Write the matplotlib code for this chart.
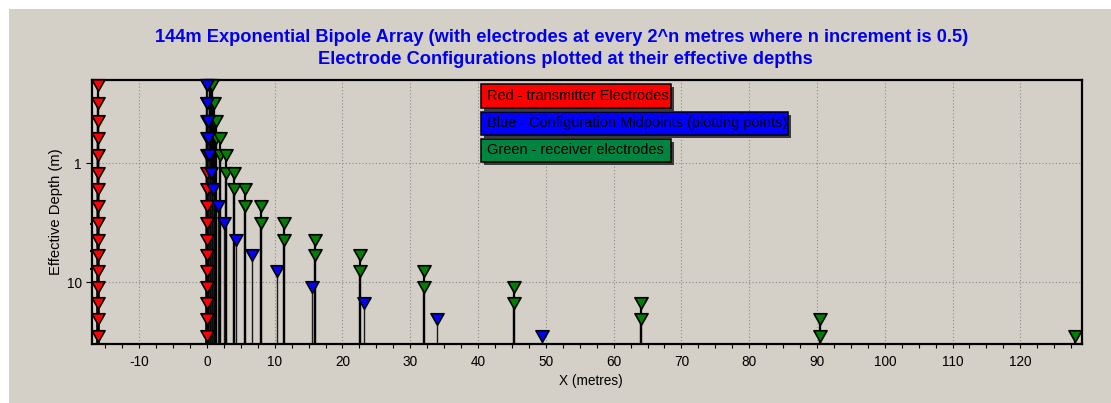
import numpy as np
import matplotlib
matplotlib.use('Agg')
import matplotlib.pyplot as plt
from matplotlib.path import Path
from matplotlib.patches import Rectangle
import matplotlib.ticker as mticker
from matplotlib import font_manager as fm

# ---------------- data ----------------
config_depth = [0.22, 0.31, 0.44, 0.61, 0.86, 1.2, 1.64, 2.3, 3.2, 4.4,
                5.9, 8.0, 10.9, 14.9, 20.3, 28.4]
tx_a = [-16, -16, -16, -16, -16, -16, -16, -16, -16, -16, -16, -16, -16, -16, -16, -16]
tx_b = [0, 0, 0, 0, 0, 0, 0, 0, 0, 0, 0, 0, 0, 0, 0, 0]
rx_m = [0.5, 0.71, 1, 1.41, 2, 2.83, 4, 5.66, 8, 11.3, 16, 22.6, 32, 45.3, 64, 90.5]
rx_n = [0.71, 1, 1.41, 2, 2.83, 4, 5.66, 8, 11.3, 16, 22.6, 32, 45.3, 64, 90.5, 128]
midpoint_x = [0.03, 0.05, 0.1, 0.18, 0.34, 0.57, 0.93, 1.6, 2.56, 4.23,
              6.6, 10.3, 15.5, 23.2, 33.9, 49.5]
x_ticks = [-10, 0, 10, 20, 30, 40, 50, 60, 70, 80, 90, 100, 110, 120]
y_ticks = [1, 10]
y_tick_labels = ['1', '10']
y_minor = [3.25, 5.5, 7.8]
title1 = '144m Exponential Bipole Array (with electrodes at every 2^n metres where n increment is 0.5)'
title2 = 'Electrode Configurations plotted at their effective depths'
legend_labels = ['Red - transmitter Electrodes',
                 'Blue - Configuration Midpoints (plotting points)',
                 'Green - receiver electrodes']

# ---------------- styling ----------------
plt.rcParams['font.family'] = ['Liberation Sans', 'DejaVu Sans']
plt.rcParams['axes.unicode_minus'] = False
names = {f.name for f in fm.fontManager.ttflist}
TITLE_FAMILY = 'Liberation Sans Narrow' if 'Liberation Sans Narrow' in names else 'Liberation Sans'

GRAY = '#D4D0C8'
RED = '#FF0000'
BLUE = '#0000FF'
GREEN = '#008000'
GREEN_BOX = '#00843F'

W, H = 1111, 403
fig = plt.figure(figsize=(W / 100, H / 100), dpi=100, facecolor='white')
fig.patches.append(Rectangle((9 / W, 0), 1, 1 - 9 / H, transform=fig.transFigure,
                             facecolor=GRAY, edgecolor='none', zorder=-5))

L, R, T, B = 91.7, 1082, 80, 344
ax = fig.add_axes([L / W, 1 - B / H, (R - L) / W, (B - T) / H])
ax.set_zorder(1)
ax.set_facecolor(GRAY)
ax.set_yscale('log')
YBOT, YTOP = 33, 0.2
ax.set_ylim(YBOT, YTOP)
ax.set_xlim(-17, 129.1)

# triangle marker (slightly wider than tall)
tri = Path([(-1, 0.88), (1, 0.88), (0, -0.88), (-1, 0.88)],
           [Path.MOVETO, Path.LINETO, Path.LINETO, Path.CLOSEPOLY])
MS = 9.4
MEW = 1.2

# stems
for i, d in enumerate(config_depth):
    ax.vlines([tx_a[i], tx_b[i], rx_m[i], rx_n[i]], d, YBOT, colors='black', lw=1.6, zorder=2)
    ax.vlines([midpoint_x[i]], d, YBOT, colors='#1a1a1a', lw=1.0, zorder=2)

common = dict(ls='none', marker=tri, ms=MS, mew=MEW, mec='black', clip_on=False)
ax.plot(tx_a, config_depth, mfc=RED, zorder=4, **common)
ax.plot(tx_b, config_depth, mfc=RED, zorder=4, **common)
ax.plot(rx_m, config_depth, mfc=GREEN, zorder=5, **common)
ax.plot(rx_n, config_depth, mfc=GREEN, zorder=5, **common)
ax.plot(midpoint_x, config_depth, mfc=BLUE, zorder=6, **common)

# ticks
ax.set_xticks(x_ticks, labels=[str(v) for v in x_ticks])
ax.xaxis.set_minor_locator(mticker.MultipleLocator(2.5))
ax.set_yticks(y_ticks, labels=y_tick_labels)
ax.set_yticks(y_minor, minor=True)
ax.yaxis.set_minor_formatter(mticker.NullFormatter())
ax.tick_params(axis='x', which='both', direction='out', length=3, width=0.8,
               pad=5, labelsize=9.8, colors='black')
ax.tick_params(axis='y', which='major', direction='out', length=4, width=0.8,
               pad=3, labelsize=9.8)
ax.tick_params(axis='y', which='minor', direction='out', length=1.5, width=1.5)
for s in ax.spines.values():
    s.set_linewidth(1.6)
    s.set_color('black')

ax.grid(True, which='major', color='#8a8a8a', linestyle=(0, (1, 2)), lw=0.8)
ax.set_axisbelow(True)

# axis labels
fig.text(591 / W, 1 - 381 / H, 'X (metres)', ha='center', va='center', fontsize=9.8)
ylab = fig.text(56 / W, 1 - 212 / H, 'Effective Depth (m)', ha='center', va='center',
                rotation=90, fontsize=10)

# title
t1 = fig.text(562 / W, 1 - 37 / H, title1, ha='center', va='center', fontsize=11,
              fontweight='bold', color='#0000EE', family=[TITLE_FAMILY, 'DejaVu Sans'])
t2 = fig.text(565 / W, 1 - 59 / H, title2, ha='center', va='center', fontsize=11,
              fontweight='bold', color='#0000EE', family=[TITLE_FAMILY, 'DejaVu Sans'])

renderer = fig.canvas.get_renderer()
w1 = t1.get_window_extent(renderer=renderer).width
fs = 11 * 813 / w1
t1.set_fontsize(fs)
t2.set_fontsize(fs)

hy = ylab.get_window_extent(renderer=renderer).height
ylab.set_fontsize(10 * 127 / hy)

# legend boxes
boxes = [(480.7, 84, 671, 108.3, RED, 95.5),
         (480.7, 111.7, 788, 135, BLUE, 123.3),
         (480.7, 139, 671, 161.7, GREEN_BOX, 150.3)]
texts = []
for (x0, y0, x1, y1, col, ty), lab in zip(boxes, legend_labels):
    fig.patches.append(Rectangle(((x0 + 3) / W, 1 - (y1 + 3) / H), (x1 - x0) / W, (y1 - y0) / H,
                                 transform=fig.transFigure, facecolor='#3a3a3a',
                                 edgecolor='none', zorder=8))
    fig.patches.append(Rectangle((x0 / W, 1 - y1 / H), (x1 - x0) / W, (y1 - y0) / H,
                                 transform=fig.transFigure, facecolor=col,
                                 edgecolor='black', lw=1.1, zorder=9))
    texts.append(fig.text(486.7 / W, 1 - ty / H, lab, ha='left', va='center',
                          fontsize=9.5, color='black', zorder=10))
wl = texts[0].get_window_extent(renderer=renderer).width
fl = 9.5 * 181 / wl
for t in texts:
    t.set_fontsize(fl)

fig.savefig('out.png', dpi=100, facecolor=fig.get_facecolor())
